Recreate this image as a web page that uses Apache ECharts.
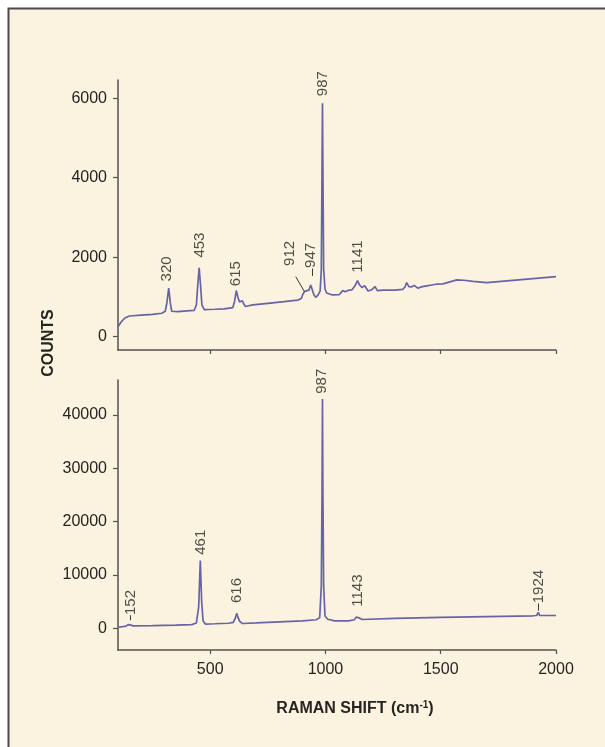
<!DOCTYPE html>
<html>
<head>
<meta charset="utf-8">
<script src="https://cdn.jsdelivr.net/npm/echarts@6/dist/echarts.min.js"></script>
<style>
html,body{margin:0;padding:0;background:#ffffff;}
#c{width:605px;height:747px;}
</style>
</head>
<body>
<div id="c"></div>
<script>
// ---- Data ----
const topShift = [100,115,130,150,200,250,290,305,312,320,327,333,340,360,400,430,440,446,452,458,464,474,520,560,598,606,613,620,627,633,639,645,652,660,685,750,820,880,895,903,910,918,928,936,942,950,958,968,977,982,985,987,989,992,998,1005,1030,1060,1075,1085,1100,1115,1128,1139,1148,1158,1170,1185,1200,1215,1225,1250,1300,1335,1345,1352,1362,1372,1385,1400,1420,1440,1460,1480,1510,1540,1570,1600,1640,1700,1800,1900,2000];
const topCounts = [250,380,470,520,540,560,590,640,850,1220,850,640,600,630,650,660,800,1300,1730,1300,800,680,690,700,730,900,1160,1000,870,860,905,830,760,750,800,840,880,920,960,1080,1140,1120,1170,1300,1330,1050,990,1050,1150,1700,4200,5870,4200,1700,1200,1100,1050,1060,1160,1130,1170,1180,1280,1410,1300,1240,1280,1150,1180,1260,1160,1170,1170,1190,1250,1360,1260,1250,1290,1220,1260,1280,1300,1320,1330,1380,1430,1420,1390,1360,1410,1460,1510];

const bottomShift = [100,120,135,144,150,156,165,250,350,420,440,450,457,463,469,479,520,580,600,608,615,621,628,640,700,800,900,960,975,982,985,987,989,992,998,1010,1040,1100,1125,1133,1141,1149,1160,1300,1500,1700,1900,1916,1923,1929,2000];
const bottomCounts = [200,300,400,700,950,600,450,500,600,700,1000,4000,12700,5000,1400,800,850,950,1100,1800,2800,2000,1300,900,1000,1200,1400,1600,2000,8000,25000,43000,25000,8000,2300,1700,1400,1400,1600,2100,2350,1900,1650,1850,2050,2200,2350,2400,3000,2400,2400];

// peak annotations: text, label anchor shift, label anchor counts (bottom of rotated text)
const topLabelText   = ['320','453','615','912','947','987','1141'];
const topLabelShift  = [310,456,612,846,938,987,1139];
const topLabelCounts = [1390,1990,1270,1780,1730,6050,1610];
const topLeaderFrom  = [[871,1509],[944,1715]];
const topLeaderTo    = [[909,1132],[944,1530]];

const bottomLabelText   = ['152','461','616','987','1143','1924'];
const bottomLabelShift  = [154,461,617,986,1141,1925];
const bottomLabelCounts = [2500,13800,4750,44000,4050,4700];
const bottomLeaderFrom  = [[152,2450],[1924,4650]];
const bottomLeaderTo    = [[152,1500],[1924,3300]];

const xTicks = [500,1000,1500,2000];
const topYTicks = [0,2000,4000,6000];
const bottomYTicks = [0,10000,20000,30000,40000];

// ---- Styles ----
const FONT = "'Liberation Sans', Arial, Helvetica, sans-serif";
const lineColor = '#6664a8';
const axisColor = '#55524e';
const textColor = '#262422';

function zip(a, b){ return a.map((v,i)=>[v,b[i]]); }
function labelData(t, x, y){ return t.map((s,i)=>({name:s, value:[x[i], y[i]]})); }
function leaders(f, t){ return f.map((p,i)=>[{coord:p},{coord:t[i]}]); }
const plain = v => String(v);

function xAxisCfg(idx, showLabels){
  return {
    type:'value', gridIndex:idx, min:100, max:2000,
    axisLine:{show:true, onZero:false, lineStyle:{color:axisColor, width:1.5}},
    axisTick:{show:true, length:4, customValues:xTicks, lineStyle:{color:axisColor, width:1.2}},
    axisLabel:{show:showLabels, customValues:xTicks, formatter:plain, margin:12, color:textColor, fontSize:16, fontFamily:FONT},
    splitLine:{show:false}
  };
}
function yAxisCfg(idx, min, max, ticks){
  return {
    type:'value', gridIndex:idx, min:min, max:max,
    axisLine:{show:true, onZero:false, lineStyle:{color:axisColor, width:1.5}},
    axisTick:{show:true, length:5, customValues:ticks, lineStyle:{color:axisColor, width:1.2}},
    axisLabel:{show:true, customValues:ticks, formatter:plain, margin:11, color:textColor, fontSize:16, fontFamily:FONT},
    splitLine:{show:false}
  };
}
function annotSeries(idx, data, lead){
  return {
    type:'scatter', xAxisIndex:idx, yAxisIndex:idx, symbolSize:1,
    itemStyle:{color:'rgba(0,0,0,0)'}, silent:true, z:5,
    data:data,
    label:{show:true, position:'inside', formatter:'{b}', rotate:90, align:'left', verticalAlign:'middle',
           color:'#262422', fontSize:15, fontFamily:FONT},
    markLine:{symbol:'none', silent:true, animation:false, label:{show:false},
              lineStyle:{color:'#3a3836', width:1, type:'solid'}, data:lead}
  };
}

const chart = echarts.init(document.getElementById('c'), null, {renderer:'canvas'});
chart.setOption({
  backgroundColor:'#ffffff',
  animation:false,
  graphic:[
    {type:'rect', z:-10, shape:{x:8.5, y:8.5, width:2000, height:2000},
     style:{fill:'#fbf2df', stroke:'#4d4b49', lineWidth:2}},
    {type:'text', z:10, x:49, y:343, rotation:Math.PI/2,
     style:{text:'COUNTS', font:"bold 16px " + FONT, fill:textColor, align:'center', verticalAlign:'middle'}}
  ],
  grid:[
    {left:118, right:49, top:80, height:270},
    {left:118, right:49, top:380, height:270}
  ],
  xAxis:[
    xAxisCfg(0, false),
    Object.assign(xAxisCfg(1, true), {
      name:'{a|RAMAN SHIFT (cm}{s|-1}{a|)}',
      nameLocation:'middle', nameGap:50,
      nameTextStyle:{padding:[0,0,0,36], rich:{
        a:{fontSize:16, fontWeight:'bold', fontFamily:FONT, color:textColor},
        s:{fontSize:10, fontWeight:'bold', fontFamily:FONT, color:textColor, verticalAlign:'top', padding:[0,0,8,0]}
      }}
    })
  ],
  yAxis:[
    yAxisCfg(0, -335, 6458, topYTicks),
    yAxisCfg(1, -4070, 46580, bottomYTicks)
  ],
  series:[
    {type:'line', xAxisIndex:0, yAxisIndex:0, data:zip(topShift, topCounts), showSymbol:false,
     lineStyle:{color:lineColor, width:1.7}, silent:true},
    {type:'line', xAxisIndex:1, yAxisIndex:1, data:zip(bottomShift, bottomCounts), showSymbol:false,
     lineStyle:{color:lineColor, width:1.7}, silent:true},
    annotSeries(0, labelData(topLabelText, topLabelShift, topLabelCounts), leaders(topLeaderFrom, topLeaderTo)),
    annotSeries(1, labelData(bottomLabelText, bottomLabelShift, bottomLabelCounts), leaders(bottomLeaderFrom, bottomLeaderTo))
  ]
});
</script>
</body>
</html>
